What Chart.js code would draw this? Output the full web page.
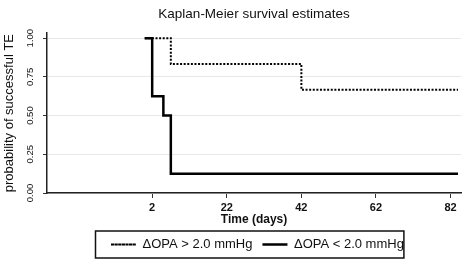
<!DOCTYPE html>
<html>
<head>
<meta charset="utf-8">
<script src="https://cdn.jsdelivr.net/npm/chart.js@4/dist/chart.umd.min.js"></script>
<style>
  html, body { margin: 0; padding: 0; background: #fff; }
  #wrap { width: 469px; height: 261px; }
</style>
</head>
<body>
<div id="wrap"><canvas id="kmChart" width="469" height="261"></canvas></div>
<script>
// Kaplan-Meier curves
const highTimes = [0, 7, 42, 84];
const highSurv = [1.0, 0.833, 0.667, 0.667];
const lowTimes = [0, 2, 5, 7, 84];
const lowSurv = [1.0, 0.625, 0.5, 0.125, 0.125];
const xTicks = [2, 22, 42, 62, 82];
const yTicks = [0, 0.25, 0.5, 0.75, 1.0];
const seriesNames = ['\u0394OPA > 2.0 mmHg', '\u0394OPA < 2.0 mmHg'];

const font = "'Liberation Sans', Arial, sans-serif";

function toPoints(times, surv) {
    return times.map((t, i) => ({ x: t, y: surv[i] }));
}

// draws the frame round the legend
const legendFrame = {
    id: 'legendFrame',
    afterLayout(chart) {
        chart.legend.left = 101;
    },
    afterDraw(chart) {
        const lg = chart.legend;
        const boxes = lg.legendHitBoxes;
        if (!boxes || !boxes.length) return;
        const first = boxes[0];
        const last = boxes[boxes.length - 1];
        const ctx = chart.ctx;
        ctx.save();
        ctx.strokeStyle = '#111';
        ctx.lineWidth = 1.5;
        const left = first.left - 15.5;
        const right = last.left + last.width;
        ctx.strokeRect(left, lg.top + 3, right - left, 27);
        ctx.restore();
    }
};

new Chart(document.getElementById('kmChart'), {
    type: 'line',
    data: {
        datasets: [{
            label: seriesNames[0],
            data: toPoints(highTimes, highSurv),
            stepped: true,
            borderColor: '#000',
            backgroundColor: '#000',
            borderWidth: 2,
            borderDash: [2, 1.6],
            pointRadius: 0,
            fill: false
        }, {
            label: seriesNames[1],
            data: toPoints(lowTimes, lowSurv),
            stepped: true,
            borderColor: '#000',
            backgroundColor: '#000',
            borderWidth: 2.5,
            pointRadius: 0,
            fill: false
        }]
    },
    options: {
        responsive: false,
        animation: false,
        layout: { padding: { left: 0, right: 8, top: 0, bottom: 0 } },
        plugins: {
            title: {
                display: true,
                fullSize: false,
                text: 'Kaplan-Meier survival estimates',
                color: '#111',
                font: { family: font, size: 13.5, weight: 'normal' },
                padding: { top: 6, bottom: 11 }
            },
            legend: {
                position: 'bottom',
                align: 'start',
                labels: {
                    color: '#111',
                    font: { family: font, size: 13 },
                    boxWidth: 25,
                    boxHeight: 0,
                    padding: 10
                }
            },
            tooltip: { enabled: false }
        },
        scales: {
            x: {
                type: 'linear',
                min: -26.2,
                max: 84.8,
                afterBuildTicks: (scale) => { scale.ticks = xTicks.map(v => ({ value: v })); },
                afterFit: (scale) => { scale.height = 261 - 193 - scale.chart.legend.height; },
                ticks: {
                    color: '#111',
                    font: { family: font, size: 11, weight: 'bold' },
                    padding: 3,
                    maxRotation: 0,
                    autoSkip: false
                },
                grid: { drawOnChartArea: false, color: '#333', tickLength: 5, tickWidth: 1 },
                border: { display: true, color: '#222', width: 1.5 },
                title: {
                    display: true,
                    text: 'Time (days)',
                    color: '#111',
                    font: { family: font, size: 12, weight: 'bold' },
                    padding: { top: 0, bottom: 1 }
                }
            },
            y: {
                min: 0,
                max: 1.032,
                afterBuildTicks: (scale) => { scale.ticks = yTicks.map(v => ({ value: v })); },
                afterFit: (scale) => { scale.width = 47; },
                ticks: {
                    color: '#111',
                    font: { family: font, size: 9.5 },
                    minRotation: 90,
                    maxRotation: 90,
                    crossAlign: 'center',
                    padding: 3,
                    callback: (v) => Number(v).toFixed(2)
                },
                grid: { color: '#e8e8e8', lineWidth: 1, tickColor: '#333', tickLength: 4 },
                border: { display: true, color: '#222', width: 1.5 },
                title: {
                    display: true,
                    text: 'probability of successful TE',
                    color: '#111',
                    font: { family: font, size: 13 },
                    padding: { top: 2, bottom: 0 }
                }
            }
        }
    },
    plugins: [legendFrame]
});
</script>
</body>
</html>
